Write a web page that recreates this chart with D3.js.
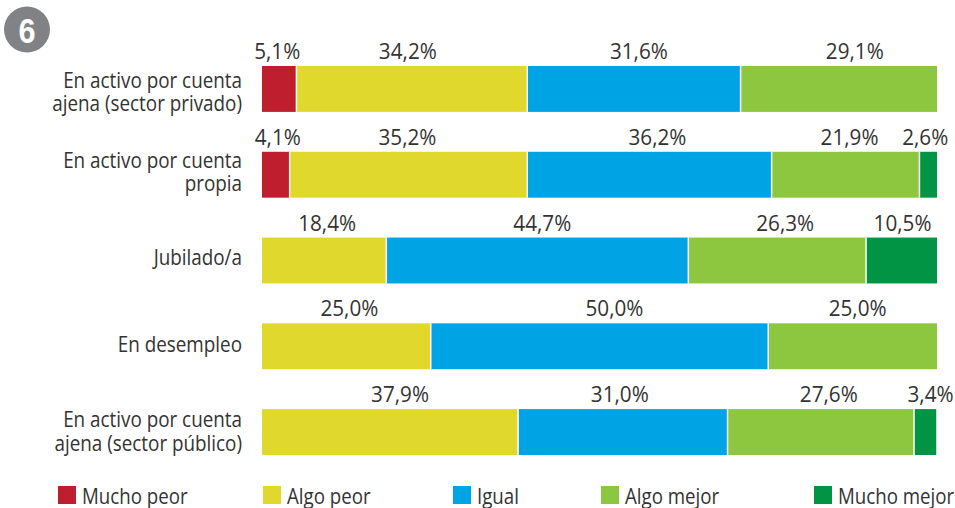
<!DOCTYPE html>
<html>
<head>
<meta charset="utf-8">
<script src="https://cdn.jsdelivr.net/npm/d3@7"></script>
<style>
html, body { margin: 0; padding: 0; background: #fff; overflow: hidden; }
text { font-family: "Open Sans", sans-serif; fill: #333; }
</style>
</head>
<body>
<svg id="chart" width="955" height="508"></svg>
<script>
// categories, top to bottom
var categories = [
    ["En activo por cuenta", "ajena (sector privado)"],
    ["En activo por cuenta", "propia"],
    ["Jubilado/a"],
    ["En desempleo"],
    ["En activo por cuenta", "ajena (sector público)"]
];
var seriesNames = ["Mucho peor", "Algo peor", "Igual", "Algo mejor", "Mucho mejor"];
var seriesColors = ["#be1e2d", "#e0d82c", "#00a3e4", "#8dc63f", "#009444"];

// percentages per series, one value per category
var muchoPeor  = [5.1, 4.1, 0, 0, 0];
var algoPeor   = [34.2, 35.2, 18.4, 25.0, 37.9];
var igual      = [31.6, 36.2, 44.7, 50.0, 31.0];
var algoMejor  = [29.1, 21.9, 26.3, 25.0, 27.6];
var muchoMejor = [0, 2.6, 10.5, 0, 3.4];

// the labels in the original are placed by hand, so they sit a bit off centre
var labelNudge = [
    [-2, -4, 5, 16, 0],
    [2, -1, 8, 4, -3],
    [0, 3, 5, 8, 1],
    [0, 3, 15, 5, 0],
    [0, 10, -3, 8, 5]
];
var categoryNudge = [-1, -7, 4, 6, -5];
var legendX = [58, 263, 453, 601, 814];

var svg = d3.select("#chart");

var rows = categories.map(function(c, i){
    return { i: i, s0: muchoPeor[i], s1: algoPeor[i], s2: igual[i], s3: algoMejor[i], s4: muchoMejor[i] };
});
var keys = ["s0", "s1", "s2", "s3", "s4"];

// some rows add up to 99,9 but all bars fill the full width
var stacked = d3.stack().keys(keys).offset(d3.stackOffsetExpand)(rows);

var x = d3.scaleLinear().domain([0, 1]).range([262, 937]);
var y = d3.scaleBand().domain(d3.range(categories.length)).range([66, 455]).paddingInner(0.465);

var fmt = function(v){ return v.toFixed(1).replace(".", ",") + "%"; };

// no condensed font installed, so squeeze the text sideways
function squeezed(px, py, sx, size, anchor, str){
    return svg.append("text")
        .attr("transform", "translate(" + px + "," + py + ") scale(" + sx + ",1)")
        .attr("text-anchor", anchor)
        .style("font-size", size + "px")
        .text(str);
}

// badge
svg.append("circle").attr("cx", 27).attr("cy", 29.5).attr("r", 23).attr("fill", "#808285");
squeezed(27, 42.5, 0.85, 36, "middle", "6")
    .style("font-family", "'Liberation Sans'")
    .style("font-weight", "bold")
    .style("fill", "#fff");

// bars
stacked.forEach(function(layer, k){
    var shown = layer.filter(function(d){ return d.data[keys[k]] > 0; });

    svg.append("g").selectAll("rect")
        .data(shown)
        .enter()
        .append("rect")
        .attr("x", function(d){ return x(d[0]); })
        .attr("y", function(d){ return y(d.data.i); })
        .attr("width", function(d){ return x(d[1]) - x(d[0]); })
        .attr("height", y.bandwidth())
        .attr("fill", seriesColors[k]);

    shown.forEach(function(d){
        squeezed((x(d[0]) + x(d[1])) / 2 + labelNudge[d.data.i][k], y(d.data.i) - 7, 0.92, 22.5, "middle", fmt(d.data[keys[k]]));
    });
});

// white gaps between the segments
stacked.forEach(function(layer, k){
    svg.append("g").selectAll("line")
        .data(layer.filter(function(d){ return d.data[keys[k]] > 0 && d[1] < 1; }))
        .enter()
        .append("line")
        .attr("x1", function(d){ return x(d[1]); })
        .attr("x2", function(d){ return x(d[1]); })
        .attr("y1", function(d){ return y(d.data.i); })
        .attr("y2", function(d){ return y(d.data.i) + y.bandwidth(); })
        .attr("stroke", "#fff")
        .attr("stroke-width", 1.5);
});

// category labels
categories.forEach(function(lines, i){
    var mid = y(i) + y.bandwidth() / 2;
    lines.forEach(function(line, j){
        squeezed(242, mid + categoryNudge[i] + j * 23.5, 0.857, 22, "end", line);
    });
});

// legend
seriesNames.forEach(function(name, k){
    svg.append("rect")
        .attr("x", legendX[k]).attr("y", 486)
        .attr("width", 18).attr("height", 18)
        .attr("fill", seriesColors[k]);
    squeezed(legendX[k] + 24, 504, 0.85, 22, "start", name);
});
</script>
</body>
</html>
